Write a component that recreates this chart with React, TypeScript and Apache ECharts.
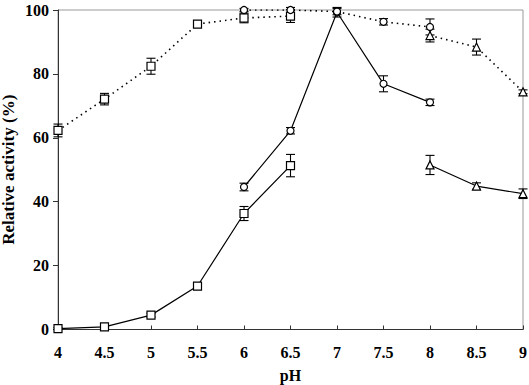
import React, { useEffect, useRef } from "react";
import * as echarts from "echarts";

const actSquareX = [4, 4.5, 5, 5.5, 6, 6.5];
const actSquareY = [0.3, 0.8, 4.5, 13.6, 36.3, 51.3];
const actSquareErr = [0.3, 0.5, 0.6, 0.6, 2.2, 3.5];

const actCircleX = [6, 6.5, 7, 7.5, 8];
const actCircleY = [44.6, 62.2, 99.3, 76.9, 71.1];
const actCircleErr = [1.2, 1.0, 1.5, 2.5, 1.0];

const actTriX = [8, 8.5, 9];
const actTriY = [51.5, 44.9, 42.5];
const actTriErr = [3.0, 1.0, 1.5];

const stabSquareX = [4, 4.5, 5, 5.5, 6, 6.5];
const stabSquareY = [62.3, 72.1, 82.4, 95.6, 97.5, 98.1];
const stabSquareErr = [2.0, 1.8, 2.5, 0.8, 1.5, 2.0];

const stabCircleX = [6, 6.5, 7, 7.5, 8];
const stabCircleY = [100, 100, 99.5, 96.3, 94.7];
const stabCircleErr = [0.5, 0.8, 1.0, 1.0, 2.5];

const stabTriX = [8, 8.5, 9];
const stabTriY = [92.0, 88.4, 74.4];
const stabTriErr = [2.0, 2.5, 0.6];

const xTicks = ["4", "4.5", "5", "5.5", "6", "6.5", "7", "7.5", "8", "8.5", "9"];

const FONT = "Liberation Serif";

function pairs(xs: number[], ys: number[]) {
  return xs.map((x, i) => [x, ys[i]]);
}
function errData(xs: number[], ys: number[], es: number[]) {
  return xs.map((x, i) => [x, ys[i] - es[i], ys[i] + es[i]]);
}

function lineSeries(xs: number[], ys: number[], symbol: string, size: number, dotted: boolean) {
  return {
    type: "line",
    data: pairs(xs, ys),
    symbol,
    symbolSize: size,
    showAllSymbol: true,
    lineStyle: { color: "#000", width: dotted ? 1.6 : 1.2, type: dotted ? [1.5, 4] : "solid" },
    itemStyle: { color: "#fff", borderColor: "#000", borderWidth: 1.2 },
    z: 3,
  };
}

function errSeries(xs: number[], ys: number[], es: number[]) {
  return {
    type: "custom",
    data: errData(xs, ys, es),
    z: 2,
    renderItem: (params: any, api: any) => {
      const x = api.value(0);
      const lo = api.coord([x, api.value(1)]);
      const hi = api.coord([x, api.value(2)]);
      const hw = 4.5;
      const style = { stroke: "#000", lineWidth: 1.1 };
      return {
        type: "group",
        children: [
          { type: "line", shape: { x1: lo[0], y1: lo[1], x2: hi[0], y2: hi[1] }, style },
          { type: "line", shape: { x1: lo[0] - hw, y1: lo[1], x2: lo[0] + hw, y2: lo[1] }, style },
          { type: "line", shape: { x1: hi[0] - hw, y1: hi[1], x2: hi[0] + hw, y2: hi[1] }, style },
        ],
      };
    },
  };
}

const tri = "path://M5,0 L10,10 L0,10 Z";

export default function App() {
  const ref = useRef<HTMLDivElement>(null);
  useEffect(() => {
    const chart = echarts.init(ref.current!, null, { renderer: "svg" });
    chart.setOption({
      animation: false,
      backgroundColor: "#fff",
      grid: {
        left: 58,
        right: 6,
        top: 10,
        bottom: 55.5,
        show: true,
        borderColor: "#999",
        borderWidth: 1,
        containLabel: false,
        outerBoundsMode: "none",
      },
      xAxis: {
        type: "value",
        min: 4,
        max: 9,
        interval: 0.5,
        name: "pH",
        nameLocation: "middle",
        nameGap: 38,
        nameMoveOverlap: false,
        nameTextStyle: { fontFamily: FONT, fontWeight: "bold", fontSize: 16, color: "#000" },
        axisLine: { lineStyle: { color: "#333", width: 1 } },
        axisTick: { show: true, inside: true, length: 4, lineStyle: { color: "#333" } },
        splitLine: { show: false },
        axisLabel: {
          margin: 15,
          fontFamily: FONT,
          fontWeight: "bold",
          fontSize: 16,
          color: "#000",
          formatter: (v: number) => {
            const i = Math.round((v - 4) / 0.5);
            return xTicks[i] ?? "";
          },
        },
      },
      yAxis: {
        type: "value",
        min: 0,
        max: 100,
        interval: 20,
        name: "Relative activity (%)",
        nameLocation: "middle",
        nameGap: 41,
        nameMoveOverlap: false,
        nameTextStyle: { fontFamily: FONT, fontWeight: "bold", fontSize: 17, color: "#000" },
        axisLine: { show: true, lineStyle: { color: "#333", width: 1 } },
        axisTick: { show: true, length: 5, lineStyle: { color: "#333" } },
        splitLine: { show: false },
        axisLabel: {
          margin: 9,
          fontFamily: FONT,
          fontWeight: "bold",
          fontSize: 16,
          color: "#000",
        },
      },
      series: [
        errSeries(actSquareX, actSquareY, actSquareErr),
        errSeries(actCircleX, actCircleY, actCircleErr),
        errSeries(actTriX, actTriY, actTriErr),
        errSeries(stabSquareX, stabSquareY, stabSquareErr),
        errSeries(stabCircleX, stabCircleY, stabCircleErr),
        errSeries(stabTriX, stabTriY, stabTriErr),
        lineSeries(actSquareX, actSquareY, "rect", 8, false),
        lineSeries(actCircleX, actCircleY, "circle", 7, false),
        lineSeries(actTriX, actTriY, tri, 8, false),
        lineSeries(stabSquareX, stabSquareY, "rect", 8, true),
        lineSeries(stabCircleX, stabCircleY, "circle", 7, true),
        lineSeries(stabTriX, stabTriY, tri, 8, true),
      ],
    });
    return () => chart.dispose();
  }, []);
  return <div ref={ref} style={{ width: 529, height: 385, position: "absolute", left: 0, top: 0 }} />;
}
